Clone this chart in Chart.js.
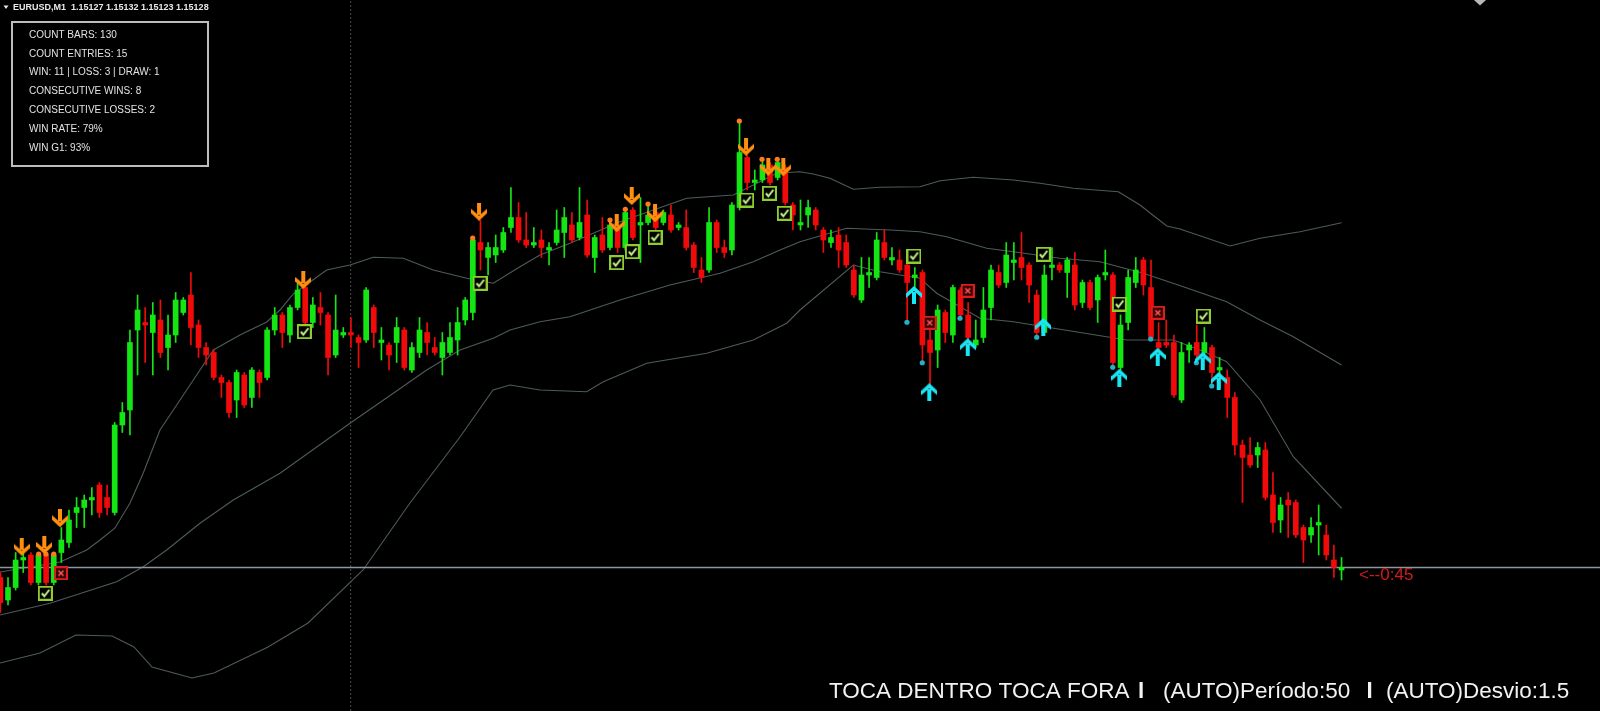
<!DOCTYPE html>
<html>
<head>
<meta charset="utf-8">
<title>EURUSD M1 - Toca Dentro Toca Fora</title>
<script src="https://cdn.jsdelivr.net/npm/chart.js@4.4.1/dist/chart.umd.min.js"></script>
<style>
  html, body { margin: 0; padding: 0; background: #000; overflow: hidden; }
  canvas { display: block; }
</style>
</head>
<body>
<canvas id="chart" width="1600" height="711"></canvas>
<script>
// EURUSD M1 candles, oldest first (last one is the live bar)
const opens = [
  1.15124,1.15115,1.15120,1.15131,1.15133,1.15122,1.15133,1.15122,1.15134,1.15138,
  1.15150,1.15152,1.15155,1.15161,1.15156,1.15150,1.15185,1.15191,1.15223,1.15226,
  1.15222,1.15227,1.15216,1.15221,1.15230,1.15237,1.15225,1.15216,1.15214,1.15204,
  1.15202,1.15195,1.15205,1.15196,1.15206,1.15204,1.15223,1.15229,1.15221,1.15232,
  1.15240,1.15226,1.15232,1.15229,1.15213,1.15221,1.15222,1.15220,1.15219,1.15232,
  1.15218,1.15217,1.15218,1.15223,1.15207,1.15214,1.15222,1.15216,1.15212,1.15214,
  1.15219,1.15227,1.15230,1.15258,1.15252,1.15253,1.15255,1.15264,1.15268,1.15259,
  1.15257,1.15259,1.15255,1.15258,1.15262,1.15265,1.15260,1.15269,1.15252,1.15261,
  1.15256,1.15264,1.15256,1.15271,1.15265,1.15266,1.15270,1.15266,1.15269,1.15264,
  1.15264,1.15257,1.15247,1.15247,1.15266,1.15256,1.15255,1.15272,1.15292,1.15282,
  1.15283,1.15289,1.15284,1.15288,1.15273,1.15265,1.15269,1.15271,1.15263,1.15258,
  1.15261,1.15258,1.15247,1.15235,1.15245,1.15244,1.15258,1.15251,1.15251,1.15249,
  1.15244,1.15246,1.15219,1.15215,1.15230,1.15221,1.15239,1.15229,1.15217,1.15220,
  1.15232,1.15246,1.15242,1.15250,1.15252,1.15249,1.15237,1.15222,1.15248,1.15249,
  1.15246,1.15249,1.15234,1.15242,1.15235,1.15245,1.15245,1.15208,1.15226,1.15242,
  1.15251,1.15240,1.15218,1.15218,1.15218,1.15195,1.15215,1.15218,1.15214,1.15216,
  1.15207,1.15204,1.15196,1.15177,1.15173,1.15173,1.15175,1.15157,1.15147,1.15155,
  1.15154,1.15144,1.15141,1.15145,1.15141,1.15131,1.15127
];
const highs = [
  1.15126,1.15124,1.15134,1.15135,1.15134,1.15134,1.15134,1.15134,1.15144,1.15151,
  1.15156,1.15157,1.15160,1.15162,1.15161,1.15186,1.15194,1.15223,1.15237,1.15232,
  1.15234,1.15235,1.15229,1.15238,1.15236,1.15246,1.15227,1.15218,1.15215,1.15205,
  1.15203,1.15207,1.15206,1.15208,1.15207,1.15224,1.15232,1.15230,1.15233,1.15242,
  1.15241,1.15236,1.15238,1.15230,1.15237,1.15224,1.15228,1.15221,1.15240,1.15233,
  1.15224,1.15218,1.15228,1.15224,1.15218,1.15228,1.15226,1.15220,1.15222,1.15226,
  1.15232,1.15236,1.15260,1.15267,1.15258,1.15261,1.15264,1.15280,1.15274,1.15270,
  1.15264,1.15263,1.15258,1.15271,1.15272,1.15270,1.15280,1.15275,1.15261,1.15268,
  1.15267,1.15266,1.15271,1.15272,1.15276,1.15273,1.15271,1.15271,1.15273,1.15266,
  1.15271,1.15258,1.15252,1.15272,1.15267,1.15259,1.15274,1.15307,1.15293,1.15287,
  1.15291,1.15290,1.15291,1.15289,1.15274,1.15275,1.15275,1.15272,1.15264,1.15263,
  1.15264,1.15261,1.15249,1.15252,1.15252,1.15262,1.15263,1.15256,1.15255,1.15250,
  1.15248,1.15247,1.15228,1.15233,1.15231,1.15241,1.15240,1.15234,1.15227,1.15240,
  1.15249,1.15249,1.15258,1.15258,1.15262,1.15250,1.15239,1.15249,1.15256,1.15250,
  1.15252,1.15254,1.15243,1.15243,1.15245,1.15255,1.15246,1.15229,1.15247,1.15252,
  1.15252,1.15251,1.15226,1.15227,1.15221,1.15218,1.15218,1.15225,1.15224,1.15217,
  1.15212,1.15207,1.15198,1.15179,1.15180,1.15178,1.15178,1.15166,1.15156,1.15158,
  1.15155,1.15145,1.15148,1.15153,1.15145,1.15137,1.15132
];
const lows = [
  1.15110,1.15113,1.15119,1.15126,1.15121,1.15121,1.15121,1.15121,1.15130,1.15136,
  1.15144,1.15144,1.15149,1.15148,1.15149,1.15149,1.15182,1.15181,1.15205,1.15210,
  1.15205,1.15212,1.15207,1.15218,1.15229,1.15217,1.15212,1.15209,1.15203,1.15196,
  1.15188,1.15188,1.15192,1.15192,1.15196,1.15203,1.15221,1.15216,1.15218,1.15231,
  1.15225,1.15224,1.15225,1.15205,1.15212,1.15220,1.15216,1.15208,1.15218,1.15216,
  1.15211,1.15207,1.15210,1.15207,1.15206,1.15212,1.15213,1.15213,1.15205,1.15213,
  1.15213,1.15225,1.15227,1.15247,1.15245,1.15250,1.15254,1.15262,1.15258,1.15256,
  1.15256,1.15252,1.15249,1.15257,1.15252,1.15258,1.15259,1.15252,1.15246,1.15254,
  1.15255,1.15254,1.15255,1.15259,1.15250,1.15265,1.15263,1.15265,1.15262,1.15263,
  1.15255,1.15246,1.15242,1.15246,1.15254,1.15252,1.15253,1.15271,1.15279,1.15279,
  1.15282,1.15281,1.15283,1.15273,1.15263,1.15263,1.15264,1.15263,1.15254,1.15256,
  1.15248,1.15248,1.15236,1.15234,1.15240,1.15243,1.15251,1.15249,1.15246,1.15226,
  1.15240,1.15210,1.15199,1.15208,1.15218,1.15218,1.15228,1.15216,1.15216,1.15218,
  1.15227,1.15240,1.15240,1.15243,1.15243,1.15234,1.15221,1.15221,1.15243,1.15246,
  1.15236,1.15231,1.15232,1.15231,1.15226,1.15243,1.15208,1.15207,1.15223,1.15240,
  1.15237,1.15219,1.15215,1.15216,1.15196,1.15194,1.15210,1.15210,1.15213,1.15201,
  1.15200,1.15188,1.15173,1.15154,1.15168,1.15168,1.15155,1.15142,1.15142,1.15140,
  1.15140,1.15130,1.15138,1.15133,1.15131,1.15124,1.15123
];
const closes = [
  1.15114,1.15120,1.15131,1.15132,1.15122,1.15133,1.15122,1.15133,1.15139,1.15147,
  1.15152,1.15155,1.15156,1.15150,1.15152,1.15185,1.15190,1.15218,1.15231,1.15225,
  1.15229,1.15214,1.15221,1.15235,1.15235,1.15224,1.15216,1.15213,1.15204,1.15202,
  1.15190,1.15206,1.15193,1.15207,1.15202,1.15223,1.15229,1.15222,1.15232,1.15239,
  1.15226,1.15233,1.15230,1.15212,1.15223,1.15222,1.15221,1.15218,1.15239,1.15222,
  1.15219,1.15213,1.15224,1.15208,1.15216,1.15223,1.15218,1.15214,1.15218,1.15220,
  1.15226,1.15235,1.15259,1.15255,1.15256,1.15256,1.15262,1.15268,1.15259,1.15257,
  1.15258,1.15256,1.15256,1.15263,1.15268,1.15259,1.15266,1.15253,1.15260,1.15255,
  1.15265,1.15256,1.15270,1.15260,1.15266,1.15269,1.15264,1.15270,1.15263,1.15265,
  1.15256,1.15248,1.15244,1.15266,1.15256,1.15254,1.15273,1.15294,1.15282,1.15283,
  1.15289,1.15282,1.15290,1.15274,1.15269,1.15266,1.15272,1.15265,1.15259,1.15260,
  1.15255,1.15249,1.15237,1.15245,1.15246,1.15259,1.15252,1.15252,1.15247,1.15242,
  1.15245,1.15217,1.15214,1.15231,1.15222,1.15240,1.15229,1.15220,1.15219,1.15231,
  1.15247,1.15241,1.15253,1.15251,1.15248,1.15241,1.15222,1.15245,1.15249,1.15247,
  1.15251,1.15233,1.15242,1.15232,1.15244,1.15246,1.15210,1.15225,1.15244,1.15247,
  1.15241,1.15220,1.15216,1.15217,1.15197,1.15214,1.15217,1.15213,1.15218,1.15206,
  1.15208,1.15196,1.15177,1.15172,1.15169,1.15176,1.15156,1.15146,1.15153,1.15153,
  1.15141,1.15139,1.15144,1.15146,1.15133,1.15128,1.15128
];

// bands (period 50, deviation 1.5) read at their bends: [bar index, price]
const upperBand = [
  [-0.05,1.151262],[7.82,1.151302],[11.33,1.15135],[13.07,1.15139],[15.04,1.151438],[17.01,1.151538],
  [18.75,1.151658],[20.94,1.15183],[24.45,1.15199],[27.94,1.15215],[31.44,1.15221],[34.95,1.152262],
  [36.69,1.15231],[38.44,1.152374],[42.82,1.15247],[45.88,1.15249],[48.94,1.152521],[52.87,1.152517],
  [56.81,1.15247],[61.2,1.152437],[64.68,1.152417],[68.19,1.152483],[70.81,1.15253],[74.75,1.152577],
  [81.31,1.152663],[85.68,1.15271],[90.07,1.152757],[96.18,1.15277],[98.81,1.15281],[101.88,1.152857],
  [104.93,1.152863],[106.68,1.152854],[108.87,1.152837],[111.93,1.152793],[115.43,1.152801],[120.68,1.152803],
  [123.31,1.152827],[127.68,1.152841],[132.93,1.15283],[136.43,1.152817],[140.8,1.152797],[146.71,1.152783],
  [149.55,1.15273],[153.06,1.152646],[154.8,1.152634],[161.37,1.152566],[165.31,1.152597],[170.55,1.152623],
  [176,1.152659]
];
const middleBand = [
  [-0.05,1.15109],[6.51,1.151137],[15.26,1.151223],[18.75,1.151283],[21.82,1.15135],[26.19,1.151457],
  [30.56,1.15155],[36.69,1.151657],[45.88,1.151857],[51.56,1.151977],[55.94,1.15207],[60.32,1.15215],
  [64.68,1.152197],[66.88,1.15223],[70.81,1.152263],[74.75,1.152283],[81.31,1.15235],[87.87,1.15241],
  [94.44,1.152457],[98.81,1.152503],[102.31,1.15255],[104.93,1.152583],[111.06,1.152637],[116.75,1.15263],
  [120.68,1.152623],[124.19,1.152603],[129.44,1.152557],[132.93,1.152543],[139.06,1.152517],[144.31,1.152503],
  [149.99,1.152457],[155.24,1.152403],[160.93,1.152343],[165.31,1.15227],[169.67,1.152203],[176,1.15209]
];
const lowerBand = [
  [-0.05,1.150898],[5.2,1.150938],[9.92,1.15101],[14.65,1.151006],[17.53,1.150962],[19.9,1.150882],
  [25.14,1.150838],[28.03,1.150858],[35.12,1.150962],[40.37,1.151058],[47.59,1.15127],[53.75,1.151538],
  [60.31,1.151802],[64.65,1.15199],[66.88,1.15201],[70.81,1.15199],[76.94,1.151983],[79.12,1.152023],
  [84.82,1.152097],[92.69,1.152137],[98.81,1.15219],[103.19,1.152257],[104.93,1.15231],[111.93,1.15249],
  [115.43,1.152463],[120.68,1.152437],[122.87,1.152377],[128.56,1.152277],[132.93,1.152263],[139.06,1.152233],
  [147.81,1.15219],[153.93,1.15219],[157.43,1.15215],[160.93,1.152103],[165.31,1.15195],[169.67,1.151723],
  [176,1.151517]
];

// signals and results: [bar index, price]
const sellArrows = [
  [2.8,1.151363],[5.76,1.15137],[7.82,1.151477],[39.75,1.15243],[62.81,1.152703],[80.88,1.152657],
  [82.85,1.152766],[85.91,1.152697],[97.85,1.152963],[100.77,1.152883],[102.74,1.152881]
];
const buyArrows = [
  [119.89,1.15237],[121.9,1.151981],[126.94,1.152161],[136.86,1.152242],
  [146.84,1.152039],[151.88,1.152123],[157.78,1.152107],[159.88,1.152026]
];
const sellDots = [
  [5.02,1.151334],[5.98,1.151334],[7.0,1.151334],[61.98,1.152598],[80.0,1.15267],
  [82.01,1.152713],[84.99,1.152734],[96.97,1.153066],[99.95,1.152913],[101.95,1.152913]
];
const buyDots = [
  [118.97,1.152261],[120.98,1.152099],[125.93,1.152277],[136.0,1.152201],
  [145.97,1.152081],[150.96,1.152194],[156.95,1.152099],[158.97,1.152006]
];
const winMarks = [
  [5.89,1.151177],[39.88,1.152223],[62.94,1.152417],[80.88,1.152499],[82.93,1.152543],[85.91,1.152601],
  [97.94,1.15275],[100.91,1.152777],[102.87,1.152697],[119.89,1.152526],[136.86,1.152533],[146.84,1.152334],
  [157.86,1.152286]
];
const lossMarks = [
  [7.95,1.151257],[121.95,1.152259],[126.94,1.152387],[151.89,1.152299]
];

const bidPrice = 1.15128;
const separatorIndex = 45.97;

const symbolTitle = 'EURUSD,M1';
const quoteText = '1.15127 1.15132 1.15123 1.15128';
const statsLines = [
  'COUNT BARS: 130',
  'COUNT ENTRIES: 15',
  'WIN: 11 | LOSS: 3 | DRAW: 1',
  'CONSECUTIVE WINS: 8',
  'CONSECUTIVE LOSSES: 2',
  'WIN RATE: 79%',
  'WIN G1: 93%'
];
const countdownText = '<--0:45';
const footerParts = ['TOCA DENTRO TOCA FORA', '(AUTO)Período:50', '(AUTO)Desvio:1.5'];
const footerX = [829, 1163, 1386];
const footerBarsX = [1139.5, 1368];

const X_MIN = -0.0525, X_MAX = 209.92;
const Y_MIN = 1.150706, Y_MAX = 1.15355;

const BULL = '#14e614';
const BEAR = '#f00a0a';
const BAND = '#4d5b5b';

// small bitmaps used as point styles
function glyph(w, h, paint) {
  const c = document.createElement('canvas');
  c.width = w; c.height = h;
  paint(c.getContext('2d'), w, h);
  return c;
}
function arrow(g, color, up) {
  g.fillStyle = color;
  if (up) { g.translate(0, 18); g.scale(1, -1); }
  g.fillRect(6, 0, 4, 12);
  g.beginPath();
  g.moveTo(0, 6); g.lineTo(8, 13); g.lineTo(16, 6);
  g.lineTo(16, 10.5); g.lineTo(8, 18); g.lineTo(0, 10.5);
  g.closePath();
  g.fill();
}
const sellArrowImg = glyph(16, 18, g => arrow(g, '#ff8f10', false));
const buyArrowImg = glyph(16, 18, g => arrow(g, '#19e6f5', true));
const winImg = glyph(15, 15, g => {
  g.fillStyle = '#000'; g.fillRect(0, 0, 15, 15);
  g.strokeStyle = '#8fcc2e'; g.lineWidth = 2; g.strokeRect(1, 1, 13, 13);
  g.strokeStyle = '#c8f58c'; g.lineWidth = 2;
  g.beginPath(); g.moveTo(4, 7.5); g.lineTo(6.5, 10.5); g.lineTo(11.5, 4); g.stroke();
});
const lossImg = glyph(14, 14, g => {
  g.fillStyle = '#3a0000'; g.fillRect(0, 0, 14, 14);
  g.strokeStyle = '#d81e1e'; g.lineWidth = 2; g.strokeRect(1, 1, 12, 12);
  g.strokeStyle = '#ff5a5a'; g.lineWidth = 1.5;
  g.beginPath(); g.moveTo(4.5, 4.5); g.lineTo(9.5, 9.5); g.moveTo(9.5, 4.5); g.lineTo(4.5, 9.5); g.stroke();
});

const pts = arr => arr.map(([x, y]) => ({ x, y }));
const idx = opens.map((_, i) => i);
const candleColors = idx.map(i => closes[i] >= opens[i] ? BULL : BEAR);

const marker = (label, arr, style, extra) => Object.assign({
  type: 'line', label, data: pts(arr), showLine: false,
  pointStyle: style, pointRadius: 6, pointBorderWidth: 0, order: 0, clip: false
}, extra || {});
const band = (label, arr) => ({
  type: 'line', label, data: pts(arr), borderColor: BAND, borderWidth: 1.1,
  pointRadius: 0, tension: 0, order: 10
});

const overlay = {
  id: 'overlay',
  beforeDraw(chart) {
    const g = chart.ctx;
    g.save();
    g.fillStyle = '#000';
    g.fillRect(0, 0, chart.width, chart.height);
    g.restore();
  },
  afterDraw(chart) {
    const g = chart.ctx;
    g.save();
    // symbol line top left
    g.fillStyle = '#e8e8e8';
    g.beginPath(); g.moveTo(3.5, 5.5); g.lineTo(8.5, 5.5); g.lineTo(6, 9); g.closePath(); g.fill();
    g.font = 'bold 9px "Liberation Sans", Arial, sans-serif';
    g.textBaseline = 'middle';
    g.fillText(symbolTitle, 13, 7.5);
    g.fillText(quoteText, 71, 7.5);

    // statistics panel
    g.fillStyle = '#000';
    g.fillRect(12, 22, 196, 144);
    g.strokeStyle = '#bdbdbd'; g.lineWidth = 2;
    g.strokeRect(12, 22, 196, 144);
    g.font = '10px "Liberation Sans", Arial, sans-serif';
    g.fillStyle = '#e2e2e2';
    statsLines.forEach((t, k) => g.fillText(t, 29, 35 + k * 18.8));

    // bar countdown
    g.font = '17px "Liberation Sans", Arial, sans-serif';
    g.fillStyle = '#d21c1c';
    g.fillText(countdownText, 1359, 575.5);

    // indicator footer
    g.font = '22.5px "Liberation Sans", Arial, sans-serif';
    g.fillStyle = '#f2f2f2';
    g.textBaseline = 'alphabetic';
    footerParts.forEach((t, k) => g.fillText(t, footerX[k], 698));
    footerBarsX.forEach(x => g.fillRect(x, 682, 3.2, 16));

    // scroll marker top right
    g.fillStyle = '#b8b8b8';
    g.beginPath(); g.moveTo(1474, 0); g.lineTo(1486, 0); g.lineTo(1480, 5.5); g.closePath(); g.fill();
    g.restore();
  }
};

new Chart(document.getElementById('chart'), {
  type: 'bar',
  data: {
    datasets: [
      marker('sell', sellArrows, sellArrowImg),
      marker('buy', buyArrows, buyArrowImg),
      marker('win', winMarks, winImg),
      marker('loss', lossMarks, lossImg),
      marker('sell touch', sellDots, 'circle', { pointRadius: 2.6, pointBackgroundColor: '#ff7a1e', order: 1 }),
      marker('buy touch', buyDots, 'circle', { pointRadius: 2.6, pointBackgroundColor: '#1fb2c8', order: 1 }),
      {
        type: 'bar', label: 'body', data: idx.map(i => ({ x: i, y: [opens[i], closes[i]] })),
        backgroundColor: candleColors, barThickness: 5, grouped: false, minBarLength: 1, order: 5
      },
      {
        type: 'bar', label: 'wick', data: idx.map(i => ({ x: i, y: [lows[i], highs[i]] })),
        backgroundColor: candleColors, barThickness: 1, grouped: false, order: 6
      },
      {
        type: 'line', label: 'bid', data: [{ x: X_MIN, y: bidPrice }, { x: X_MAX, y: bidPrice }],
        borderColor: '#8e969e', borderWidth: 1.5, pointRadius: 0, order: 8
      },
      {
        type: 'line', label: 'separator', data: [{ x: separatorIndex, y: Y_MIN }, { x: separatorIndex, y: Y_MAX }],
        borderColor: '#4a4a4a', borderWidth: 1, borderDash: [2, 2], pointRadius: 0, order: 9
      },
      band('upper', upperBand),
      band('middle', middleBand),
      band('lower', lowerBand)
    ]
  },
  options: {
    responsive: false,
    animation: false,
    devicePixelRatio: 1,
    events: [],
    layout: { padding: 0, autoPadding: false },
    plugins: { legend: { display: false }, tooltip: { enabled: false } },
    scales: {
      x: { type: 'linear', display: false, min: X_MIN, max: X_MAX, offset: false },
      y: { type: 'linear', display: false, min: Y_MIN, max: Y_MAX }
    }
  },
  plugins: [overlay]
});
</script>
</body>
</html>
